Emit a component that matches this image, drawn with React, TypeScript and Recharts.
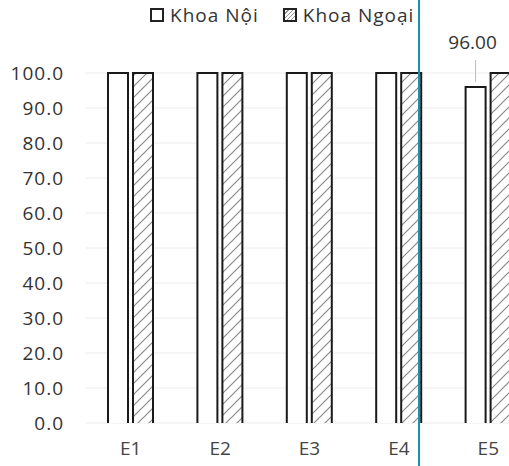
import React from "react";
import { BarChart, Bar, XAxis, YAxis, CartesianGrid, Legend, LabelList } from "recharts";

const categories = ["E1", "E2", "E3", "E4", "E5"];
const khoaNoi = [100, 100, 100, 100, 96];
const khoaNgoai = [100, 100, 100, 100, 100];
const noiLabels = ["", "", "", "", "96.00"];
const yTicks = [0, 10, 20, 30, 40, 50, 60, 70, 80, 90, 100];

const data = categories.map((c, i) => ({
  name: c,
  noi: khoaNoi[i],
  ngoai: khoaNgoai[i],
  noiLabel: noiLabels[i],
}));

const FONT = "'Open Sans', sans-serif";

const OpenBar = (props: any) => {
  const { x, y, width, height, fill } = props;
  if (height == null || height <= 0) return null;
  return (
    <g>
      <rect x={x} y={y} width={width} height={height} fill={fill} stroke="none" />
      <path
        d={`M${x},${y + height} L${x},${y} L${x + width},${y} L${x + width},${y + height}`}
        fill="none"
        stroke="#1a1a1a"
        strokeWidth={2}
      />
    </g>
  );
};

const LeaderLabel = (props: any) => {
  const { x, y, width, value } = props;
  if (!value) return null;
  const cx = x + width / 2;
  return (
    <g>
      <line x1={cx} y1={y - 5} x2={cx} y2={y - 27} stroke="#bbb" strokeWidth={1} />
      <text x={cx - 3} y={y - 38} textAnchor="middle" fontFamily={FONT} fontSize={19} fill="#333">
        {value}
      </text>
    </g>
  );
};

const LegendContent = () => (
  <div
    style={{
      display: "flex",
      alignItems: "center",
      fontFamily: FONT,
      fontSize: 19,
      lineHeight: "24px",
      color: "#333",
      letterSpacing: 1,
      marginLeft: 150,
      whiteSpace: "nowrap",
    }}
  >
    <span style={{ display: "inline-block", width: 10, height: 10, border: "2px solid #222", marginRight: 6 }} />
    <span style={{ marginRight: 24 }}>Khoa Nội</span>
    <span
      style={{
        display: "inline-block",
        width: 10,
        height: 10,
        border: "2px solid #222",
        marginRight: 6,
        background: "repeating-linear-gradient(135deg, #fff 0 2px, #999 2px 3px)",
      }}
    />
    <span>Khoa Ngoại</span>
  </div>
);

export default function App() {
  return (
    <div
      style={{
        position: "absolute",
        left: 0,
        top: 0,
        width: 509,
        height: 466,
        overflow: "hidden",
        background: "#fff",
      }}
    >
      <BarChart
        width={533}
        height={466}
        data={data}
        margin={{ top: 49, right: 0, bottom: 0, left: 0 }}
        barSize={20}
        barGap={5}
      >
        <defs>
          <pattern id="hatch" patternUnits="userSpaceOnUse" width="11" height="11">
            <rect width="11" height="11" fill="#fff" />
            <path d="M-1,12 L12,-1 M-6,6 L6,-6 M5,17 L17,5" stroke="#8a8a8a" strokeWidth={1.2} />
          </pattern>
        </defs>
        <CartesianGrid horizontal vertical={false} stroke="#ececec" />
        <XAxis
          dataKey="name"
          axisLine={false}
          tickLine={false}
          tickSize={0}
          tickMargin={19}
          height={43}
          tick={{ fontFamily: FONT, fontSize: 19, fill: "#444" }}
        />
        <YAxis
          domain={[0, 100]}
          ticks={yTicks}
          width={86}
          axisLine={false}
          tickLine={false}
          tickSize={0}
          tickMargin={22}
          tickFormatter={(v: number) => v.toFixed(1)}
          tick={{ fontFamily: FONT, fontSize: 19, fill: "#333", letterSpacing: 1 }}
          interval={0}
        />
        <Legend verticalAlign="top" align="left" content={<LegendContent />} wrapperStyle={{ top: 3, left: 0 }} />
        <Bar dataKey="noi" name="Khoa Nội" fill="#fff" shape={<OpenBar />} isAnimationActive={false}>
          <LabelList dataKey="noiLabel" content={<LeaderLabel />} />
        </Bar>
        <Bar dataKey="ngoai" name="Khoa Ngoại" fill="url(#hatch)" shape={<OpenBar />} isAnimationActive={false} />
      </BarChart>
      <div style={{ position: "absolute", left: 418, top: 0, width: 2, height: 466, background: "#1793b0" }} />
    </div>
  );
}
